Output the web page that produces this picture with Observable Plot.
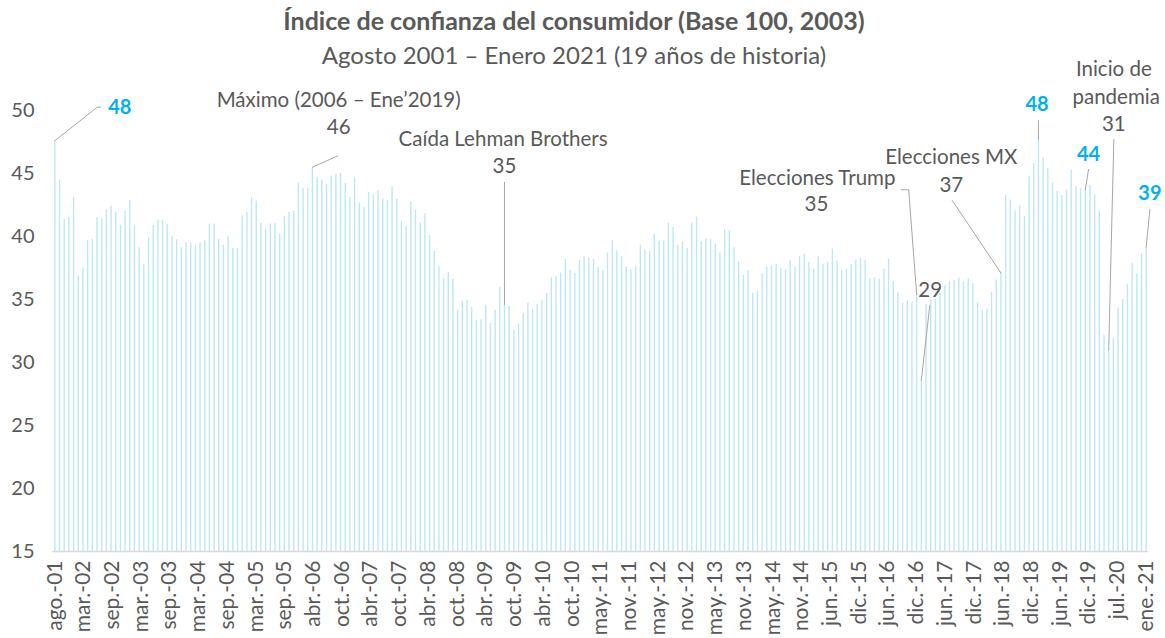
<!DOCTYPE html>
<html>
<head>
<meta charset="utf-8">
<script src="https://cdn.jsdelivr.net/npm/d3@7"></script>
<script src="https://cdn.jsdelivr.net/npm/@observablehq/plot@0.6"></script>
<style>
  html, body { margin: 0; padding: 0; background: #ffffff; }
  #wrap { position: relative; width: 1165px; height: 638px; font-family: Lato, "Open Sans", sans-serif; color: #595959; }
  #chart { position: absolute; left: 0; top: 0; }
  .ttl { position: absolute; left: 0; width: 1148px; text-align: center; white-space: nowrap; }
  #title { top: 5px; font-size: 25px; font-weight: 700; line-height: 30px; }
  #subtitle { top: 40px; font-size: 24px; font-weight: 400; line-height: 30px; }
</style>
</head>
<body>
<div id="wrap">
  <div id="chart"></div>
  <div id="title" class="ttl">Índice de confianza del consumidor (Base 100, 2003)</div>
  <div id="subtitle" class="ttl">Agosto 2001 – Enero 2021 (19 años de historia)</div>
</div>
<script>
// Monthly consumer confidence index, ago-2001 .. ene-2021 (234 months)
const values = [
  47.6, 44.5, 41.35, 41.5, 43.1, 36.85, 37.5, 39.7, 39.76, 41.5,
  41.45, 42.1, 42.4, 41.9, 40.9, 42.0, 42.85, 40.8, 39.1, 37.8,
  39.9, 40.9, 41.3, 41.3, 40.95, 40.0, 39.74, 39.1, 39.5, 39.5,
  39.3, 39.5, 39.7, 41.0, 41.0, 39.76, 39.3, 40.0, 39.05, 39.05,
  41.65, 41.9, 43.1, 42.8, 41.05, 40.6, 41.0, 41.05, 40.2, 41.6,
  41.9, 42.0, 44.25, 43.8, 43.8, 45.5, 44.7, 44.5, 44.1, 44.8,
  44.95, 45.0, 44.2, 43.1, 44.7, 42.65, 42.3, 43.5, 43.3, 43.65,
  43.0, 42.85, 43.9, 42.95, 41.2, 40.75, 42.75, 42.1, 41.1, 41.8,
  40.05, 38.8, 37.6, 36.65, 37.15, 36.6, 34.15, 34.85, 34.9, 34.35,
  33.35, 33.4, 34.5, 33.1, 34.15, 35.95, 34.6, 34.45, 32.55, 33.05,
  33.9, 34.7, 34.2, 34.6, 34.9, 35.5, 36.7, 36.8, 37.1, 38.2,
  37.3, 37.05, 38.1, 38.4, 38.3, 38.2, 37.55, 37.3, 38.7, 39.7,
  38.85, 38.4, 37.6, 37.35, 37.6, 39.3, 38.9, 38.8, 40.15, 39.65,
  39.65, 41.05, 40.7, 39.3, 39.55, 39.05, 41.1, 41.55, 39.6, 39.85,
  39.75, 39.4, 38.7, 40.55, 40.5, 39.1, 38.0, 36.9, 37.3, 35.5,
  35.65, 37.05, 37.55, 37.65, 37.8, 37.45, 37.35, 38.1, 37.6, 38.4,
  38.6, 37.95, 37.4, 38.4, 37.8, 37.95, 39.0, 38.05, 37.3, 37.4,
  37.75, 38.1, 38.25, 38.1, 36.65, 36.7, 36.6, 37.4, 38.2, 36.45,
  35.55, 34.7, 34.9, 34.75, 35.4, 28.6, 34.6, 35.0, 35.0, 35.45,
  36.1, 36.4, 36.5, 36.7, 36.4, 36.65, 36.25, 34.75, 34.15, 34.25,
  35.55, 36.55, 37.1, 43.25, 42.9, 42.05, 42.45, 41.6, 44.75, 45.8,
  47.75, 46.25, 45.4, 44.25, 43.6, 43.25, 43.7, 45.25, 43.95, 43.8,
  43.7, 44.05, 43.3, 42.0, 32.15, 31.0, 31.9, 34.35, 35.0, 36.2,
  37.85, 37.0, 38.65, 39.15
];

// Category labels (months)
const monthNames = ["ene.", "feb.", "mar.", "abr.", "may.", "jun.", "jul.", "ago.", "sep.", "oct.", "nov.", "dic."];
const startYear = 2001, startMonth = 7; // ago.
const categories = values.map((_, i) => {
  const m = (startMonth + i) % 12;
  const y = startYear + Math.floor((startMonth + i) / 12);
  return monthNames[m] + "-" + String(y % 100).padStart(2, "0");
});

// Axis tick labels as shown
const tickLabels = [
  "ago.-01", "mar.-02", "sep.-02", "mar.-03", "sep.-03", "mar.-04", "sep.-04", "mar.-05", "sep.-05",
  "abr.-06", "oct.-06", "abr.-07", "oct.-07", "abr.-08", "oct.-08", "abr.-09", "oct.-09", "abr.-10",
  "oct.-10", "may.-11", "nov.-11", "may.-12", "nov.-12", "may.-13", "nov.-13", "may.-14", "nov.-14",
  "jun.-15", "dic.-15", "jun.-16", "dic.-16", "jun.-17", "dic.-17", "jun.-18", "dic.-18", "jun.-19",
  "dic.-19", "jul.-20", "ene.-21"
];
const yTicks = [15, 20, 25, 30, 35, 40, 45, 50];

// Annotation texts
const noteTexts = [
  "48", "Máximo (2006 – Ene’2019)", "46", "Caída Lehman Brothers", "35",
  "Elecciones Trump", "35", "29", "Elecciones MX", "37", "48",
  "Inicio de", "pandemia", "31", "44", "39"
];

// ---------- build ----------
const data = values.map((v, i) => ({i, v, cat: categories[i]}));
const n = values.length;
const step = (n - 1) / (tickLabels.length - 1);
const tickPos = tickLabels.map((_, k) => k * step);
const tickMap = new Map(tickPos.map((p, k) => [p, tickLabels[k]]));

// annotation layout (position in scale units), and style
const noteLayout = [
  {i: 11.4, v: 50.26, start: true, blue: true},
  {i: 60.6, v: 50.79},
  {i: 60.6, v: 48.65},
  {i: 95.7, v: 47.72},
  {i: 96.0, v: 45.56},
  {i: 162.8, v: 44.62},
  {i: 162.6, v: 42.54},
  {i: 186.9, v: 35.71},
  {i: 191.4, v: 46.25},
  {i: 191.4, v: 44.05},
  {i: 209.7, v: 50.48, blue: true},
  {i: 226.1, v: 53.23},
  {i: 226.6, v: 51.06},
  {i: 226.1, v: 48.89},
  {i: 220.7, v: 46.48, blue: true},
  {i: 233.8, v: 43.44, blue: true}
];
const notes = noteTexts.map((t, k) => ({text: t, ...noteLayout[k]}));

// leader lines: free points, ending at a bar top
const leaderDefs = [
  {pts: [[9.76, 50.26], [9.05, 50.26]], bar: 0},
  {pts: [[60.4, 46.4]], bar: 55},
  {pts: [[96, 44.31]], bar: 96},
  {pts: [[180.7, 43.71], [182.3, 43.71]], bar: 184},
  {pts: [[186.8, 34.52]], bar: 185},
  {pts: [[191.6, 42.86]], bar: 202},
  {pts: [[210, 49.2]], bar: 210},
  {pts: [[226.1, 47.7]], bar: 225},
  {pts: [[220.7, 45.32]], bar: 220},
  {pts: [[233.8, 42.14]], bar: 233}
];
const leaders = leaderDefs.flatMap((d, id) =>
  [...d.pts.map(([x, y]) => ({id, x, y})), {id, x: d.bar, y: values[d.bar]}]
);

const chart = Plot.plot({
  width: 1165,
  height: 638,
  marginTop: 110,
  marginBottom: 87,
  marginLeft: 52,
  marginRight: 17,
  x: {type: "linear", domain: [-0.5, n - 0.5], axis: null},
  y: {domain: [15, 50], axis: null},
  style: {fontFamily: "Lato, 'Open Sans', sans-serif", color: "#595959", background: "transparent", overflow: "visible"},
  marks: [
    Plot.ruleX(data, {x: "i", y1: 15, y2: "v", stroke: "#bde7f6", strokeWidth: 1.4}),
    Plot.ruleY([15], {stroke: "#d9d9d9", strokeWidth: 1.5}),
    Plot.axisY(yTicks, {tickSize: 0, tickPadding: 18, fontSize: 20, fill: "#595959"}),
    Plot.axisX(tickPos, {tickFormat: d => tickMap.get(d), tickRotate: -90, tickSize: 0, tickPadding: 9, fontSize: 21, fill: "#595959"}),
    Plot.line(leaders, {x: "x", y: "y", z: "id", stroke: "#a6a6a6", strokeWidth: 1}),
    Plot.text(notes.filter(d => !d.blue), {x: "i", y: "v", text: "text", fontSize: 20.5, fill: "#595959", textAnchor: "middle"}),
    Plot.text(notes.filter(d => d.blue && !d.start), {x: "i", y: "v", text: "text", fontSize: 20, fontWeight: "bold", fill: "#00b0f0", textAnchor: "middle"}),
    Plot.text(notes.filter(d => d.blue && d.start), {x: "i", y: "v", text: "text", fontSize: 20, fontWeight: "bold", fill: "#00b0f0", textAnchor: "start"})
  ]
});
document.getElementById("chart").appendChild(chart);
</script>
</body>
</html>
